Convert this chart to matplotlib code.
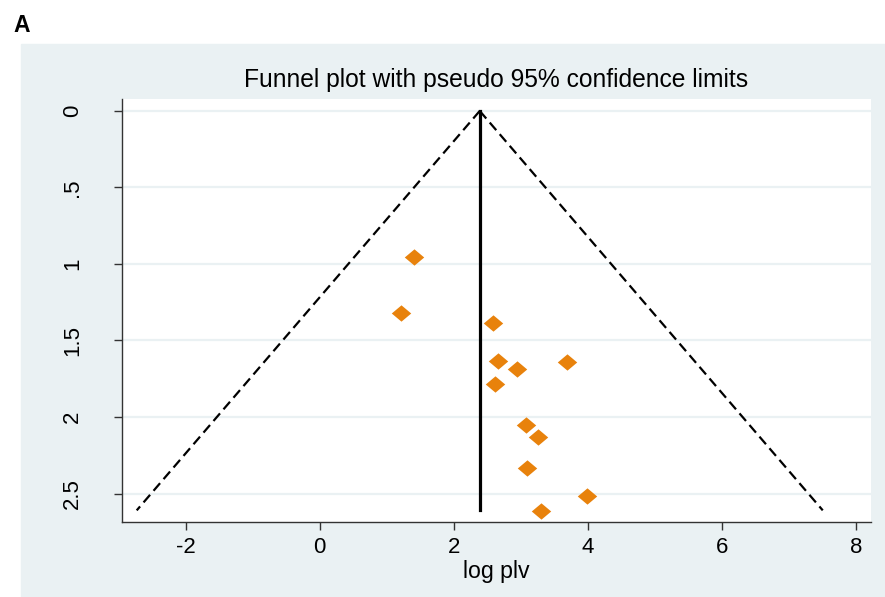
import matplotlib
matplotlib.use("Agg")
import matplotlib.pyplot as plt
import numpy as np
from matplotlib.patches import Rectangle

plt.rcParams['font.family'] = ['Liberation Sans', 'DejaVu Sans']

# Data
log_plv = [1.40, 1.21, 2.58, 2.65, 2.94, 3.68, 2.62, 3.07, 3.25, 3.09, 3.99, 3.30]
se_log_plv = [0.952, 1.322, 1.388, 1.632, 1.684, 1.641, 1.784, 2.054, 2.129, 2.335, 2.514, 2.612]
pooled = 2.385
se_max = 2.61
z95 = 1.96

x_ticks = [-2, 0, 2, 4, 6, 8]
y_ticks = [0, 0.5, 1, 1.5, 2, 2.5]
y_ticklabels = ['0', '.5', '1', '1.5', '2', '2.5']

bg = '#EAF1F3'
fig = plt.figure(figsize=(8.85, 5.97), dpi=100)
fig.patches.append(Rectangle((21/885, 0), 1 - 21/885, 1 - 44/597,
                             transform=fig.transFigure, color=bg, zorder=-10))
fig.text(13/885, 1 - 25/597, 'A', fontsize=16.5, fontweight='bold', va='center', ha='left')

ax = fig.add_axes([122/885, 1 - 522/597, (871 - 122)/885, (522 - 99)/597])
ax.set_zorder(5)
ax.set_facecolor('white')

se_line = [0, se_max]
ax.plot([pooled - z95 * s for s in se_line], se_line, color='black', lw=1.6,
        dashes=(4.5, 2.4), zorder=3)
ax.plot([pooled + z95 * s for s in se_line], se_line, color='black', lw=1.6,
        dashes=(4.5, 2.4), zorder=3)
ax.plot([pooled, pooled], se_line, color='black', lw=2.3, zorder=3)

diamond = [(-1, 0), (0, 0.84), (1, 0), (0, -0.84), (-1, 0)]
ax.plot(log_plv, se_log_plv, linestyle='none', marker=diamond, markersize=14,
        color='#E8820C', markeredgewidth=0, zorder=4)

ax.set_xlim(-2.95, 8.22)
ax.set_ylim(2.686, -0.078)
ax.set_xticks(x_ticks)
ax.set_xticklabels([str(v) for v in x_ticks])
ax.set_yticks(y_ticks)
ax.set_yticklabels(y_ticklabels, rotation=90, va='center')
ax.grid(axis='y', color=bg, lw=1.6, zorder=1)
ax.set_axisbelow(True)

for s in ['top', 'right']:
    ax.spines[s].set_visible(False)
for s in ['left', 'bottom']:
    ax.spines[s].set_color('#333333')
    ax.spines[s].set_linewidth(1.0)
ax.tick_params(axis='both', colors='#333333', length=6, width=1.0, labelsize=16,
               labelcolor='black')
ax.tick_params(axis='y', pad=22)
ax.tick_params(axis='x', pad=5)

ax.set_xlabel('log plv', fontsize=16.7, labelpad=1)
ax.set_title('Funnel plot with pseudo 95% confidence limits', fontsize=17.7, pad=9)

fig.savefig('out.png', dpi=100)
